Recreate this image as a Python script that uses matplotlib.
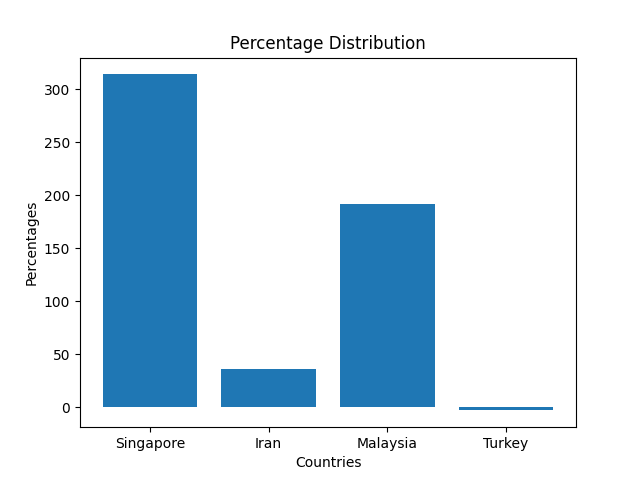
import matplotlib
matplotlib.use("Agg")
import matplotlib.pyplot as plt

# values
countries = ["Singapore", "Iran", "Malaysia", "Turkey"]
percentages = [314, 36, 191.5, -2.8]

plt.figure(figsize=(6.4, 4.8), dpi=100)
plt.bar(countries, percentages)
plt.title("Percentage Distribution")
plt.xlabel("Countries")
plt.ylabel("Percentages")
plt.savefig("out.png", dpi=100)
